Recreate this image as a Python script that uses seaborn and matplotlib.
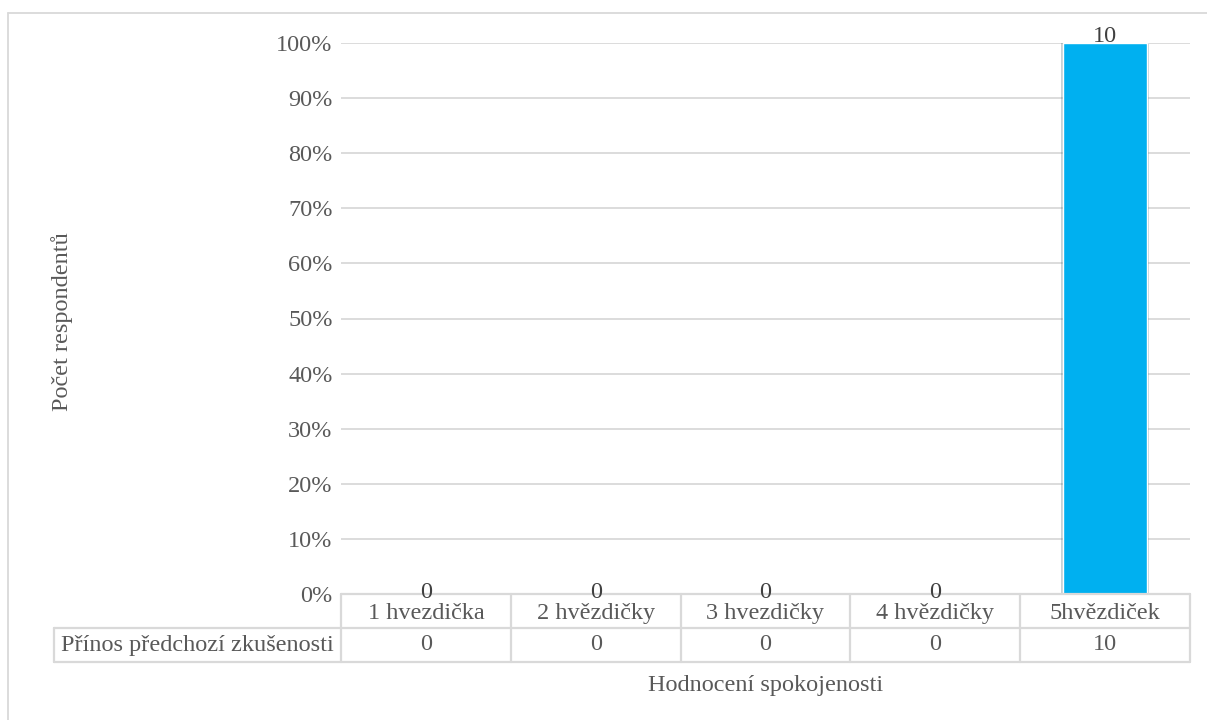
import matplotlib
matplotlib.use("Agg")
import matplotlib.pyplot as plt
import matplotlib.patheffects as pe
from matplotlib.lines import Line2D
import seaborn as sns
import pandas as pd

# Survey results: satisfaction rating vs. number of respondents
categories = ["1 hvezdička", "2 hvězdičky", "3 hvezdičky", "4 hvězdičky", "5hvězdiček"]
counts = [0, 0, 0, 0, 10]
series_name = "Přínos předchozí zkušenosti"
y_ticks = [0, 10, 20, 30, 40, 50, 60, 70, 80, 90, 100]
x_title = "Hodnocení spokojenosti"
y_title = "Počet respondentů"

total = sum(counts)
df = pd.DataFrame({"kategorie": categories,
                   "pocet": counts,
                   "podil": [c / total * 100 for c in counts]})

sns.set_theme(style="white")
plt.rcParams["font.family"] = ["Liberation Serif", "DejaVu Serif"]

TEXT = "#595959"
GRID = "#d9d9d9"
BAR = "#00b0f0"
FS = 17.5

W, H = 1207, 720
fig = plt.figure(figsize=(W / 100, H / 100), dpi=100)
left, right, top, bottom = 341, 1190, 43, 594
ax = fig.add_axes([left / W, 1 - bottom / H, (right - left) / W, (bottom - top) / H])

sns.barplot(data=df, x="kategorie", y="podil", color=BAR, width=0.49,
            saturation=1, ax=ax, zorder=3)
for p in ax.patches:
    p.set_path_effects([pe.SimplePatchShadow(offset=(-2, 0), alpha=0.22),
                        pe.SimplePatchShadow(offset=(2, -1), alpha=0.22),
                        pe.Normal()])

ax.set_xlim(-0.5, len(categories) - 0.5)
ax.set_ylim(0, 100)
ax.set_yticks(y_ticks)
ax.set_yticklabels([f"{t}%" for t in y_ticks], color=TEXT, fontsize=FS)
ax.tick_params(axis="y", length=0, pad=6)
ax.set_xticks([])
ax.set_xlabel("")
ax.set_ylabel("")
ax.yaxis.grid(True, color=GRID, linewidth=1.3, zorder=0)
for s in ax.spines.values():
    s.set_visible(False)

# value labels on top of each bar
for i, (v, c) in enumerate(zip(df["podil"], counts)):
    ax.annotate(str(c), (i, v), xytext=(0, 1 if v > 0 else -4),
                textcoords="offset pixels",
                ha="center", va="baseline", color="#404040", fontsize=FS,
                zorder=5, annotation_clip=False)

# data table below the plot
tr = ax.get_xaxis_transform()
row_h = 34 / (bottom - top)
y0, y1, y2 = 0, -row_h, -2 * row_h
lab_left = -0.5 - (left - 54) / ((right - left) / len(categories))
n = len(categories)
lines = [
    ((-0.5, n - 0.5), (y0, y0)),
    ((lab_left, n - 0.5), (y1, y1)),
    ((lab_left, n - 0.5), (y2, y2)),
    ((lab_left, lab_left), (y1, y2)),
]
for k in range(n + 1):
    lines.append(((k - 0.5, k - 0.5), (y0, y2)))
for xs, ys in lines:
    ax.add_line(Line2D(xs, ys, transform=tr, color=GRID, linewidth=1.6,
                       clip_on=False, zorder=4))
for i, (cat, c) in enumerate(zip(categories, counts)):
    ax.text(i, (y0 + y1) / 2 - 0.004, cat, transform=tr, ha="center", va="center",
            color=TEXT, fontsize=FS)
    ax.text(i, (y1 + y2) / 2, str(c), transform=tr, ha="center", va="center",
            color=TEXT, fontsize=FS)
ax.text((lab_left + -0.5) / 2, (y1 + y2) / 2, series_name, transform=tr,
        ha="center", va="center", color=TEXT, fontsize=FS)

# axis titles
fig.text((left + right) / 2 / W, 1 - 685 / H, x_title, ha="center", va="center",
         color=TEXT, fontsize=FS)
fig.text(62 / W, 1 - 322 / H, y_title, ha="center", va="center", rotation=90,
         color=TEXT, fontsize=FS)

# chart area frame
fig.add_artist(Line2D([8 / W, 8 / W], [0, 1 - 13 / H], transform=fig.transFigure,
                      color=GRID, linewidth=1.3))
fig.add_artist(Line2D([8 / W, 1], [1 - 13 / H, 1 - 13 / H], transform=fig.transFigure,
                      color=GRID, linewidth=1.3))

fig.savefig("out.png", dpi=100, facecolor="white")
